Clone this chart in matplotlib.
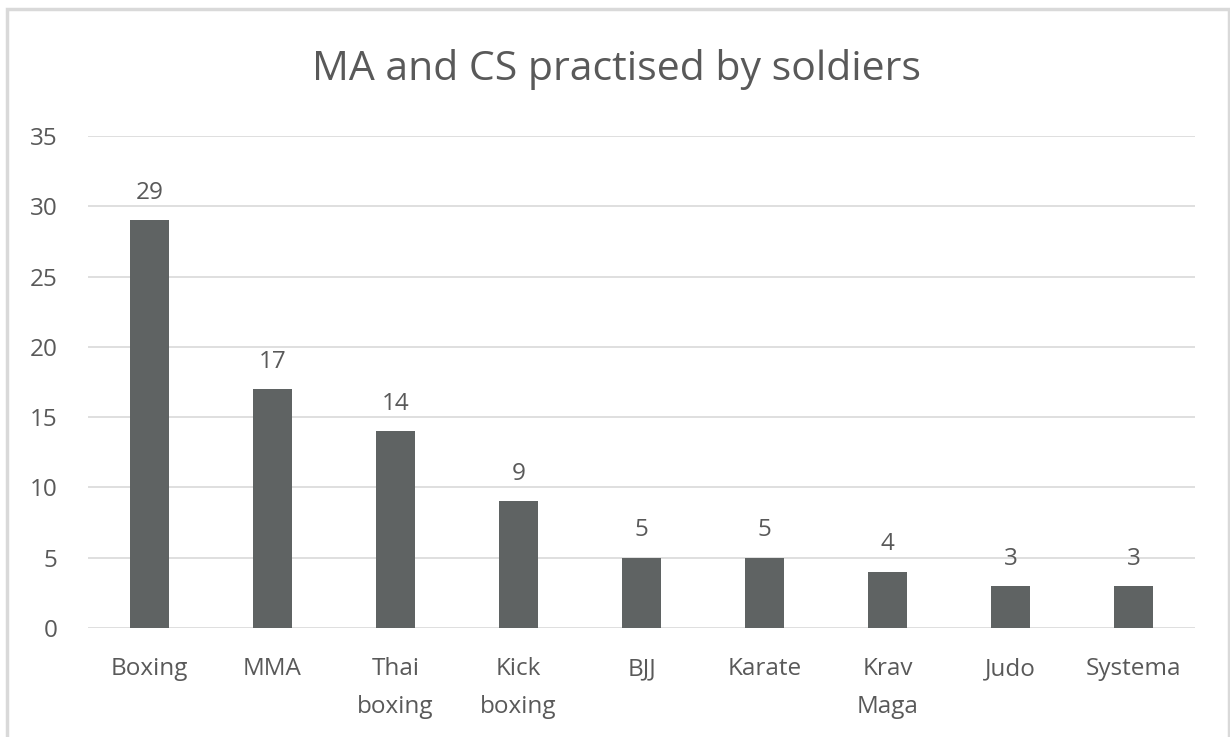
import matplotlib
matplotlib.use("Agg")
import matplotlib.pyplot as plt
from matplotlib.patches import Rectangle

categories = ["Boxing", "MMA", "Thai\nboxing", "Kick\nboxing", "BJJ", "Karate", "Krav\nMaga", "Judo", "Systema"]
values = [29, 17, 14, 9, 5, 5, 4, 3, 3]
yticks = [0, 5, 10, 15, 20, 25, 30, 35]

plt.rcParams['font.family'] = ['Open Sans', 'DejaVu Sans']
txt = '#595959'

fig = plt.figure(figsize=(12.3, 7.37), dpi=100)
ax = fig.add_axes([88/1230, 1-628/737, (1195-88)/1230, (628-136)/737])

x = list(range(len(categories)))
ax.bar(x, values, width=0.31, color='#5f6363', zorder=3)
for xi, v in zip(x, values):
    ax.annotate(str(v), (xi, v), xytext=(0, 11), textcoords='offset points',
                ha='center', va='bottom', fontsize=17.5, color=txt)

ax.set_xlim(-0.5, len(categories)-0.5)
ax.set_ylim(0, 35)
ax.set_yticks(yticks)
ax.set_yticklabels([str(t) for t in yticks])
ax.set_xticks(x)
ax.set_xticklabels(categories, linespacing=1.75)
ax.tick_params(axis='both', length=0, labelsize=17.5, labelcolor=txt)
ax.tick_params(axis='y', pad=22)
ax.tick_params(axis='x', pad=21)
ax.grid(axis='y', color='#d9d9d9', linewidth=1.2, zorder=0)
for s in ax.spines.values():
    s.set_visible(False)

fig.text(617/1230, 1-70/737, "MA and CS practised by soldiers", ha='center', va='center',
         fontsize=29.5, color=txt)

fig.patches.append(Rectangle((7/1230, -0.05), 1222/1230, 1.05 - 8.5/737, transform=fig.transFigure,
                             fill=False, edgecolor='#d9d9d9', linewidth=2.5))

fig.savefig("out.png", dpi=100)
